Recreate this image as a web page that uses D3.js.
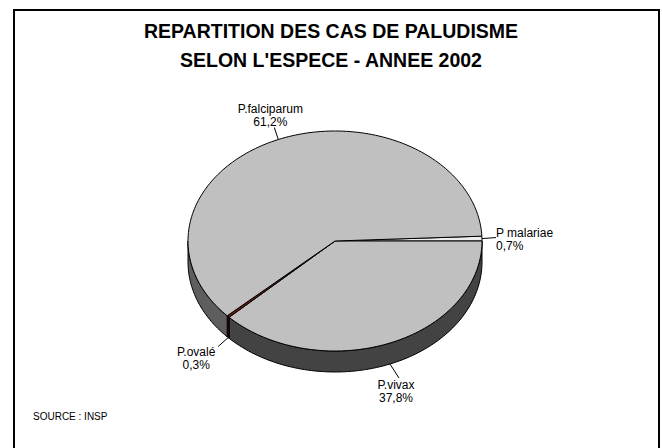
<!DOCTYPE html>
<html lang="fr">
<head>
<meta charset="UTF-8">
<script src="https://d3js.org/d3.v7.min.js"></script>
<style>
  body { margin: 0; background: #fff; }
  text { font-family: "Liberation Sans", Arial, sans-serif; fill: #000; }
</style>
</head>
<body>
<script>
// data (clockwise from P malariae)
var species = ["P malariae", "P.vivax", "P.ovalé", "P.falciparum"];
var percents = [0.7, 37.8, 0.3, 61.2];
var pctLabels = ["0,7%", "37,8%", "0,3%", "61,2%"];
var topColors = ["#eeeeee", "#c0c0c0", "#6b1a08", "#c0c0c0"];
var sideColors = ["#505050", "#434343", "#3a0c02", "#5e5e5e"];
var titleLines = ["REPARTITION DES CAS DE PALUDISME", "SELON L'ESPECE - ANNEE 2002"];
var sourceText = "SOURCE : INSP";

var width = 662, height = 448;
var cx = 335, cy = 241, rx = 147, ry = 110, depth = 21;
var startAngle = -0.7 / 100 * 2 * Math.PI;

var svg = d3.select("body").append("svg")
    .attr("width", width)
    .attr("height", height);

// frame
svg.append("rect")
    .attr("x", 14).attr("y", 10)
    .attr("width", 645).attr("height", 445)
    .attr("fill", "none").attr("stroke", "#000").attr("stroke-width", 2);

// title
svg.selectAll(".title")
    .data(titleLines)
    .join("text")
    .attr("class", "title")
    .attr("x", 331)
    .attr("y", function (d, i) { return 38 + i * 29; })
    .attr("text-anchor", "middle")
    .attr("font-weight", "bold")
    .attr("font-size", 19.5)
    .text(function (d) { return d; });

// angles via d3.pie (keep data order, clockwise)
var pie = d3.pie().sort(null).value(function (d) { return d; })
    .startAngle(0).endAngle(2 * Math.PI);
var arcs = pie(percents).map(function (a, i) {
    return { i: i, a0: a.startAngle + startAngle, a1: a.endAngle + startAngle };
});

function px(t) { return cx + rx * Math.cos(t); }
function py(t, dz) { return cy + ry * Math.sin(t) + (dz || 0); }

function ellArc(t0, t1, dz, n) {
    var pts = [];
    for (var k = 0; k <= n; k++) {
        var t = t0 + (t1 - t0) * k / n;
        pts.push([px(t), py(t, dz)]);
    }
    return pts;
}

// side walls, only the front half (0..PI) is visible
var sides = [];
arcs.forEach(function (d) {
    var s = Math.max(d.a0, 0), e = Math.min(d.a1, Math.PI);
    if (e > s) sides.push({ i: d.i, s: s, e: e });
    var s2 = Math.max(d.a0, 2 * Math.PI), e2 = Math.min(d.a1, 3 * Math.PI);
    if (e2 > s2) sides.push({ i: d.i, s: s2, e: e2 });
});

var line = d3.line();
svg.selectAll(".side")
    .data(sides)
    .join("path")
    .attr("class", "side")
    .attr("d", function (d) {
        var n = Math.max(2, Math.ceil((d.e - d.s) * 40));
        var upper = ellArc(d.s, d.e, 0, n);
        var lower = ellArc(d.e, d.s, depth, n);
        return line(upper.concat(lower)) + "Z";
    })
    .attr("fill", function (d) { return sideColors[d.i]; })
    .attr("stroke", "#000")
    .attr("stroke-width", 1)
    .attr("stroke-linejoin", "round");

// top faces
svg.selectAll(".top")
    .data(arcs)
    .join("path")
    .attr("class", "top")
    .attr("d", function (d) {
        var n = Math.max(2, Math.ceil((d.a1 - d.a0) * 40));
        return line([[cx, cy]].concat(ellArc(d.a0, d.a1, 0, n))) + "Z";
    })
    .attr("fill", function (d) { return topColors[d.i]; })
    .attr("stroke", "#000")
    .attr("stroke-width", 1)
    .attr("stroke-linejoin", "round");

// labels: leader start on slice rim, label placement per slice
var labelLayout = [
    { dx: 14, dy: -1, anchor: "start", lx: 14, ly: -1.5 },
    { dx: 9, dy: 14, anchor: "middle", lx: 6, ly: 25 },
    { dx: -10, dy: 9, anchor: "middle", lx: -32, ly: 18.5 },
    { dx: -4, dy: -12, anchor: "middle", lx: -8, ly: -26.5 }
];

arcs.forEach(function (d) {
    var mid = (d.a0 + d.a1) / 2;
    var front = Math.sin(mid) > 0.05;
    var x0 = px(mid), y0 = py(mid, front ? depth : 0);
    var L = labelLayout[d.i];
    svg.append("line")
        .attr("x1", x0).attr("y1", y0)
        .attr("x2", x0 + L.dx).attr("y2", y0 + L.dy)
        .attr("stroke", "#000").attr("stroke-width", 1);
    var t = svg.append("text")
        .attr("x", x0 + L.lx)
        .attr("y", y0 + L.ly)
        .attr("text-anchor", L.anchor)
        .attr("font-size", 12);
    t.append("tspan").attr("x", x0 + L.lx).text(species[d.i]);
    t.append("tspan").attr("x", x0 + L.lx).attr("dy", 13)
        .text(pctLabels[d.i]);
});

// source
svg.append("text")
    .attr("x", 33).attr("y", 420)
    .attr("font-size", 10)
    .text(sourceText);
</script>
</body>
</html>
